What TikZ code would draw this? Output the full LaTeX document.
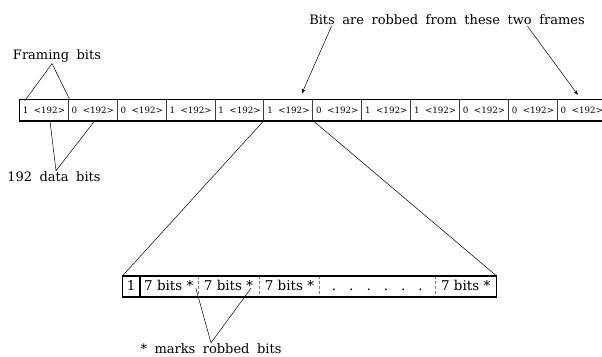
\documentclass[tikz,border=0pt]{standalone}
\usepackage{fontspec}
\setmainfont{DejaVu Serif}
\usetikzlibrary{arrows.meta,calc}
\newcommand{\lblfont}{\fontsize{13}{15}\selectfont\spaceskip=7.5pt\relax}
\tikzset{
  lbl/.style={font=\lblfont,inner sep=1pt},   % call-out text
  frm/.style={minimum width=48.9pt,minimum height=21pt,inner sep=0pt,font=\fontsize{8.7}{10}\selectfont},
  sub/.style={minimum height=21pt,text height=10pt,text depth=3pt,inner sep=0pt,anchor=west,font=\fontsize{13.5}{15}\selectfont},
  box/.style={draw=black,line width=1.6pt},
  sep/.style={black!75,line width=0.7pt},
  dsep/.style={gray,line width=0.6pt,dash pattern=on 3pt off 2pt},
  ptr/.style={black,line width=0.5pt},
  ptra/.style={ptr,-{Stealth[length=4.5pt,width=3.5pt]}},
}

\begin{document}
\begin{tikzpicture}[x=1pt,y=-1pt]
  \useasboundingbox (0,0) rectangle (602,356);
  % frame string
  \foreach \b [count=\i] in {1,0,0,1,1,1,0,1,1,0,0,0}
    \node[frm] (fr\i) at ({19.5+48.9*(\i-0.5)},110) {\b\ \ <192>};
  \foreach \i in {2,...,12} \draw[sep] (fr\i.north west) -- (fr\i.south west);
  \draw[box] (fr1.north west) rectangle (fr12.south east);

  \node[lbl] (framing) at (57,56) {Framing bits};
  \node[lbl] (data) at (54,177) {192 data bits};
  \node[lbl] (robbed) at (447,20) {Bits are robbed from these two frames};
  \draw[ptr] ($(fr1.north west)+(5.5,1.5)$) -- ([xshift=-5pt]framing.south) -- ($(fr2.north west)+(1.6,0.5)$);
  \draw[ptr] ($(fr1.south)+(6,0)$) -- ([xshift=2pt]data.north) -- ($(fr2.south)+(2,0)$);
  \draw[ptra] ([xshift=-115.5pt]robbed.south) -- ($(fr6.north)+(13.5,-6)$);
  \draw[ptra] ([xshift=80.5pt]robbed.south) -- ($(fr12.north)+(-4,-4.5)$);

  % one robbed frame, expanded
  \node[sub,minimum width=16.8pt] (s0) at (122.5,286.5) {1};
  \node[sub,minimum width=57.7pt] (s1) at (s0.east) {7 bits *};
  \node[sub,minimum width=61pt] (s2) at (s1.east) {7 bits *};
  \node[sub,minimum width=60pt] (s3) at (s2.east) {7 bits *};
  \node[sub,minimum width=115pt] (s4) at (s3.east) {.\hspace{13pt}.\hspace{13pt}.\hspace{13pt}.\hspace{13pt}.\hspace{13pt}.};
  \node[sub,minimum width=61pt] (s5) at (s4.east) {7 bits *};
  \draw[box] (s1.north west) -- (s1.south west);
  \foreach \i in {2,...,5} \draw[dsep] (s\i.north west) -- (s\i.south west);
  \draw[box] (s0.north west) rectangle (s5.south east);
  \draw[ptr] (fr6.south west) -- (s0.north west);
  \draw[ptr] (fr6.south east) -- (s5.north east);

  \node[lbl] (marks) at (211,349) {* marks robbed bits};
  \draw[ptr] ($(s1.east)+(-2,1.5)$) -- (marks.north) -- ($(s2.east)+(-8,1.5)$);
\end{tikzpicture}
\end{document}
